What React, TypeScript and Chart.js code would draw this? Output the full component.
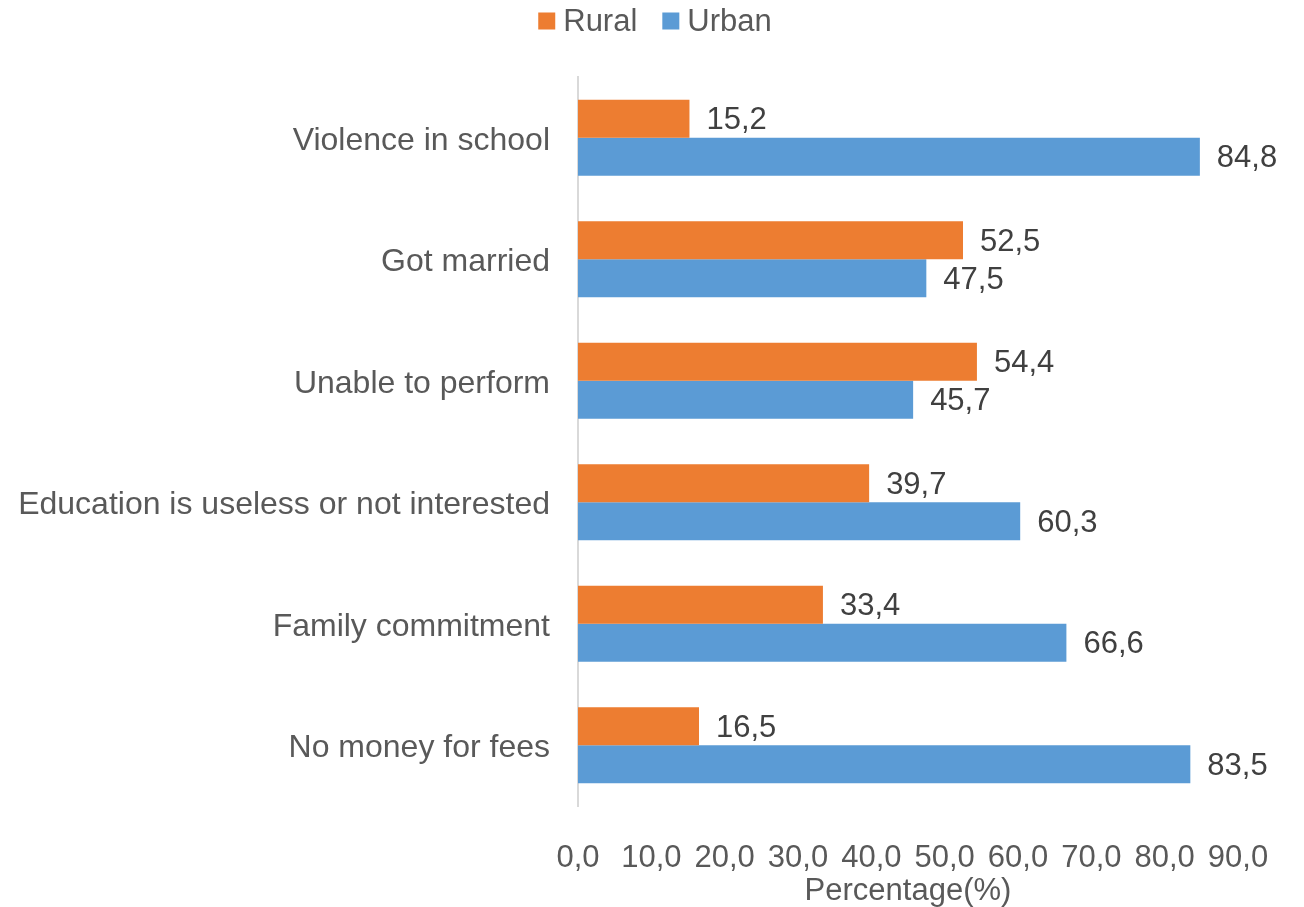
import React, { useEffect, useRef } from "react";
import { Chart, registerables } from "chart.js";

Chart.register(...registerables);

const categories = [
  "Violence in school",
  "Got married",
  "Unable to perform",
  "Education is useless or not interested",
  "Family commitment",
  "No money for fees",
];
const seriesNames = ["Rural", "Urban"];
const ruralValues = [15.2, 52.5, 54.4, 39.7, 33.4, 16.5];
const urbanValues = [84.8, 47.5, 45.7, 60.3, 66.6, 83.5];
const xMin = 0;
const xMax = 90;
const xStep = 10;
const xTitle = "Percentage(%)";

const COLORS = ["#ED7D31", "#5B9BD5"];
const FONT = "'Liberation Sans', Arial, sans-serif";
const fmt = (v: number) => v.toFixed(1).replace(".", ",");

export default function App() {
  const ref = useRef<HTMLCanvasElement | null>(null);

  useEffect(() => {
    document.body.style.margin = "0";
    const canvas = ref.current;
    if (!canvas) return;

    const dataLabels = {
      id: "dataLabels",
      afterDatasetsDraw(chart: any) {
        const ctx = chart.ctx;
        ctx.save();
        ctx.font = `31px ${FONT}`;
        ctx.fillStyle = "#404040";
        ctx.textAlign = "left";
        ctx.textBaseline = "middle";
        chart.data.datasets.forEach((ds: any, di: number) => {
          const meta = chart.getDatasetMeta(di);
          meta.data.forEach((bar: any, i: number) => {
            ctx.fillText(fmt(ds.data[i]), bar.x + 17, bar.y + 2);
          });
        });
        ctx.restore();
      },
    };

    const customLegend = {
      id: "customLegend",
      afterDraw(chart: any) {
        const ctx = chart.ctx;
        ctx.save();
        ctx.font = `31px ${FONT}`;
        ctx.textBaseline = "middle";
        ctx.textAlign = "left";
        const box = 17;
        const gap = 8;
        const itemGap = 25;
        const widths = seriesNames.map((n) => ctx.measureText(n).width);
        const total =
          widths.reduce((a, w) => a + box + gap + w, 0) + itemGap * (seriesNames.length - 1);
        let x = chart.width / 2 - total / 2 + 3;
        const cy = 21;
        seriesNames.forEach((n, i) => {
          ctx.fillStyle = COLORS[i];
          ctx.fillRect(x, cy - box / 2, box, box);
          ctx.fillStyle = "#595959";
          ctx.fillText(n, x + box + gap, cy + 1);
          x += box + gap + widths[i] + itemGap;
        });
        ctx.restore();
      },
    };

    const chart = new Chart(canvas, {
      type: "bar",
      data: {
        labels: categories,
        datasets: [
          {
            label: seriesNames[0],
            data: ruralValues,
            backgroundColor: COLORS[0],
            categoryPercentage: 0.625,
            barPercentage: 1,
          },
          {
            label: seriesNames[1],
            data: urbanValues,
            backgroundColor: COLORS[1],
            categoryPercentage: 0.625,
            barPercentage: 1,
          },
        ],
      },
      options: {
        indexAxis: "y",
        responsive: false,
        animation: false,
        layout: { padding: { top: 77, right: 66, bottom: 0, left: 0 } },
        plugins: {
          legend: { display: false },
          tooltip: { enabled: false },
        },
        scales: {
          x: {
            min: xMin,
            max: xMax,
            grid: { display: false, drawTicks: false },
            border: { display: false },
            ticks: {
              stepSize: xStep,
              padding: 34,
              color: "#595959",
              font: { family: FONT, size: 31 },
              callback: (v: any) => fmt(Number(v)),
              maxRotation: 0,
              autoSkip: false,
            },
            title: {
              display: true,
              text: xTitle,
              color: "#595959",
              font: { family: FONT, size: 31 },
              padding: { top: 0, bottom: -3 },
            },
            afterFit: (s: any) => {
              s.height = 101;
            },
          },
          y: {
            grid: { display: false, drawTicks: false },
            border: { display: true, color: "#D9D9D9", width: 2 },
            ticks: {
              padding: 28,
              labelOffset: 3,
              color: "#595959",
              font: { family: FONT, size: 32 },
              autoSkip: false,
            },
            afterFit: (s: any) => {
              s.width = 578;
            },
          },
        },
      },
      plugins: [dataLabels, customLegend],
    } as any);

    return () => chart.destroy();
  }, []);

  return (
    <div style={{ width: 1304, height: 907 }}>
      <canvas ref={ref} width={1304} height={907} style={{ display: "block" }} />
    </div>
  );
}
